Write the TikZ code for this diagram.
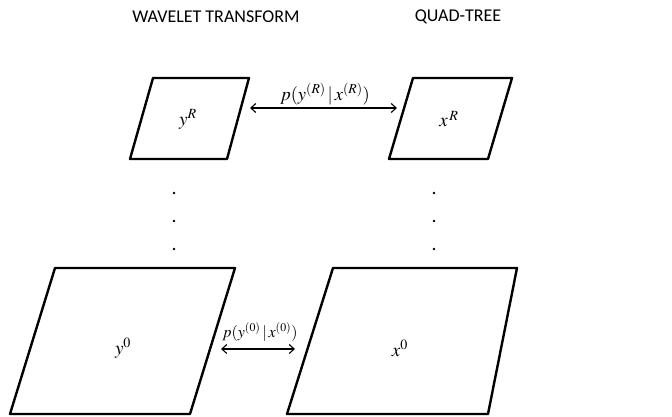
\documentclass[tikz,border=0pt]{standalone}
\usepackage{mathptmx}
\usepackage{fontspec}
\newfontfamily\titlefont{Carlito}
\usetikzlibrary{arrows.meta}
\begin{document}
\begin{tikzpicture}[x=1pt,y=-1pt,
  plane/.style={draw=black,line width=2.4pt,line join=round},
  title/.style={font=\titlefont\fontsize{18}{21}\selectfont,inner sep=0pt},
  lab/.style={font=\fontsize{19}{22}\selectfont,inner sep=0pt},
  rel/.style={font=\fontsize{18.5}{22}\selectfont,inner sep=0pt},
  relsmall/.style={font=\fontsize{16}{19}\selectfont,inner sep=0pt},
  link/.style={line width=1.1pt,{Straight Barb[length=5pt,width=9pt]}-{Straight Barb[length=5pt,width=9pt]}},
  dotmark/.style={circle,fill=black,inner sep=0pt,minimum size=2.8pt}]
\useasboundingbox (0,0) rectangle (672,417);
% titles
\node[title] (t1) at (216,17) {WAVELET TRANSFORM};
\node[title] (t2) at (458,17) {QUAD-TREE};
% planes
\draw[plane] (153,78) -- (249,78) -- (227,159) -- (130,159) -- cycle;
\draw[plane] (413,78) -- (512,78) -- (488,159) -- (389,159) -- cycle;
\draw[plane] (55,268) -- (235,268) -- (190,414) -- (10,414) -- cycle;
\draw[plane] (333,268) -- (517,268) -- (488,414) -- (287,414) -- cycle;
% labels
\node[lab] (yR) at (188,119) {$y^{R}$};
\node[lab] (xR) at (449,119) {$x^{\,R}$};
\node[lab] (y0) at (123,348) {$y^{0}$};
\node[lab] (x0) at (400,348) {$x^{0}$};
% dots
\foreach \i/\yy in {1/193,2/221,3/249}{
  \node[dotmark] (ld\i) at (174,\yy) {};
  \node[dotmark] (rd\i) at (434,\yy) {};
}
% relations
\coordinate (aL) at (250,108);
\coordinate (aR) at (397,108);
\draw[link] (aL) -- (aR);
\node[rel] (pR) at (325,94) {$p(y^{(R)}\,|\,x^{(R)})$};
\coordinate (bL) at (221,349);
\coordinate (bR) at (295,349);
\draw[link] (bL) -- (bR);
\node[relsmall] (p0) at (260,332) {$p(y^{(0)}\,|\,x^{(0)})$};
\end{tikzpicture}
\end{document}
